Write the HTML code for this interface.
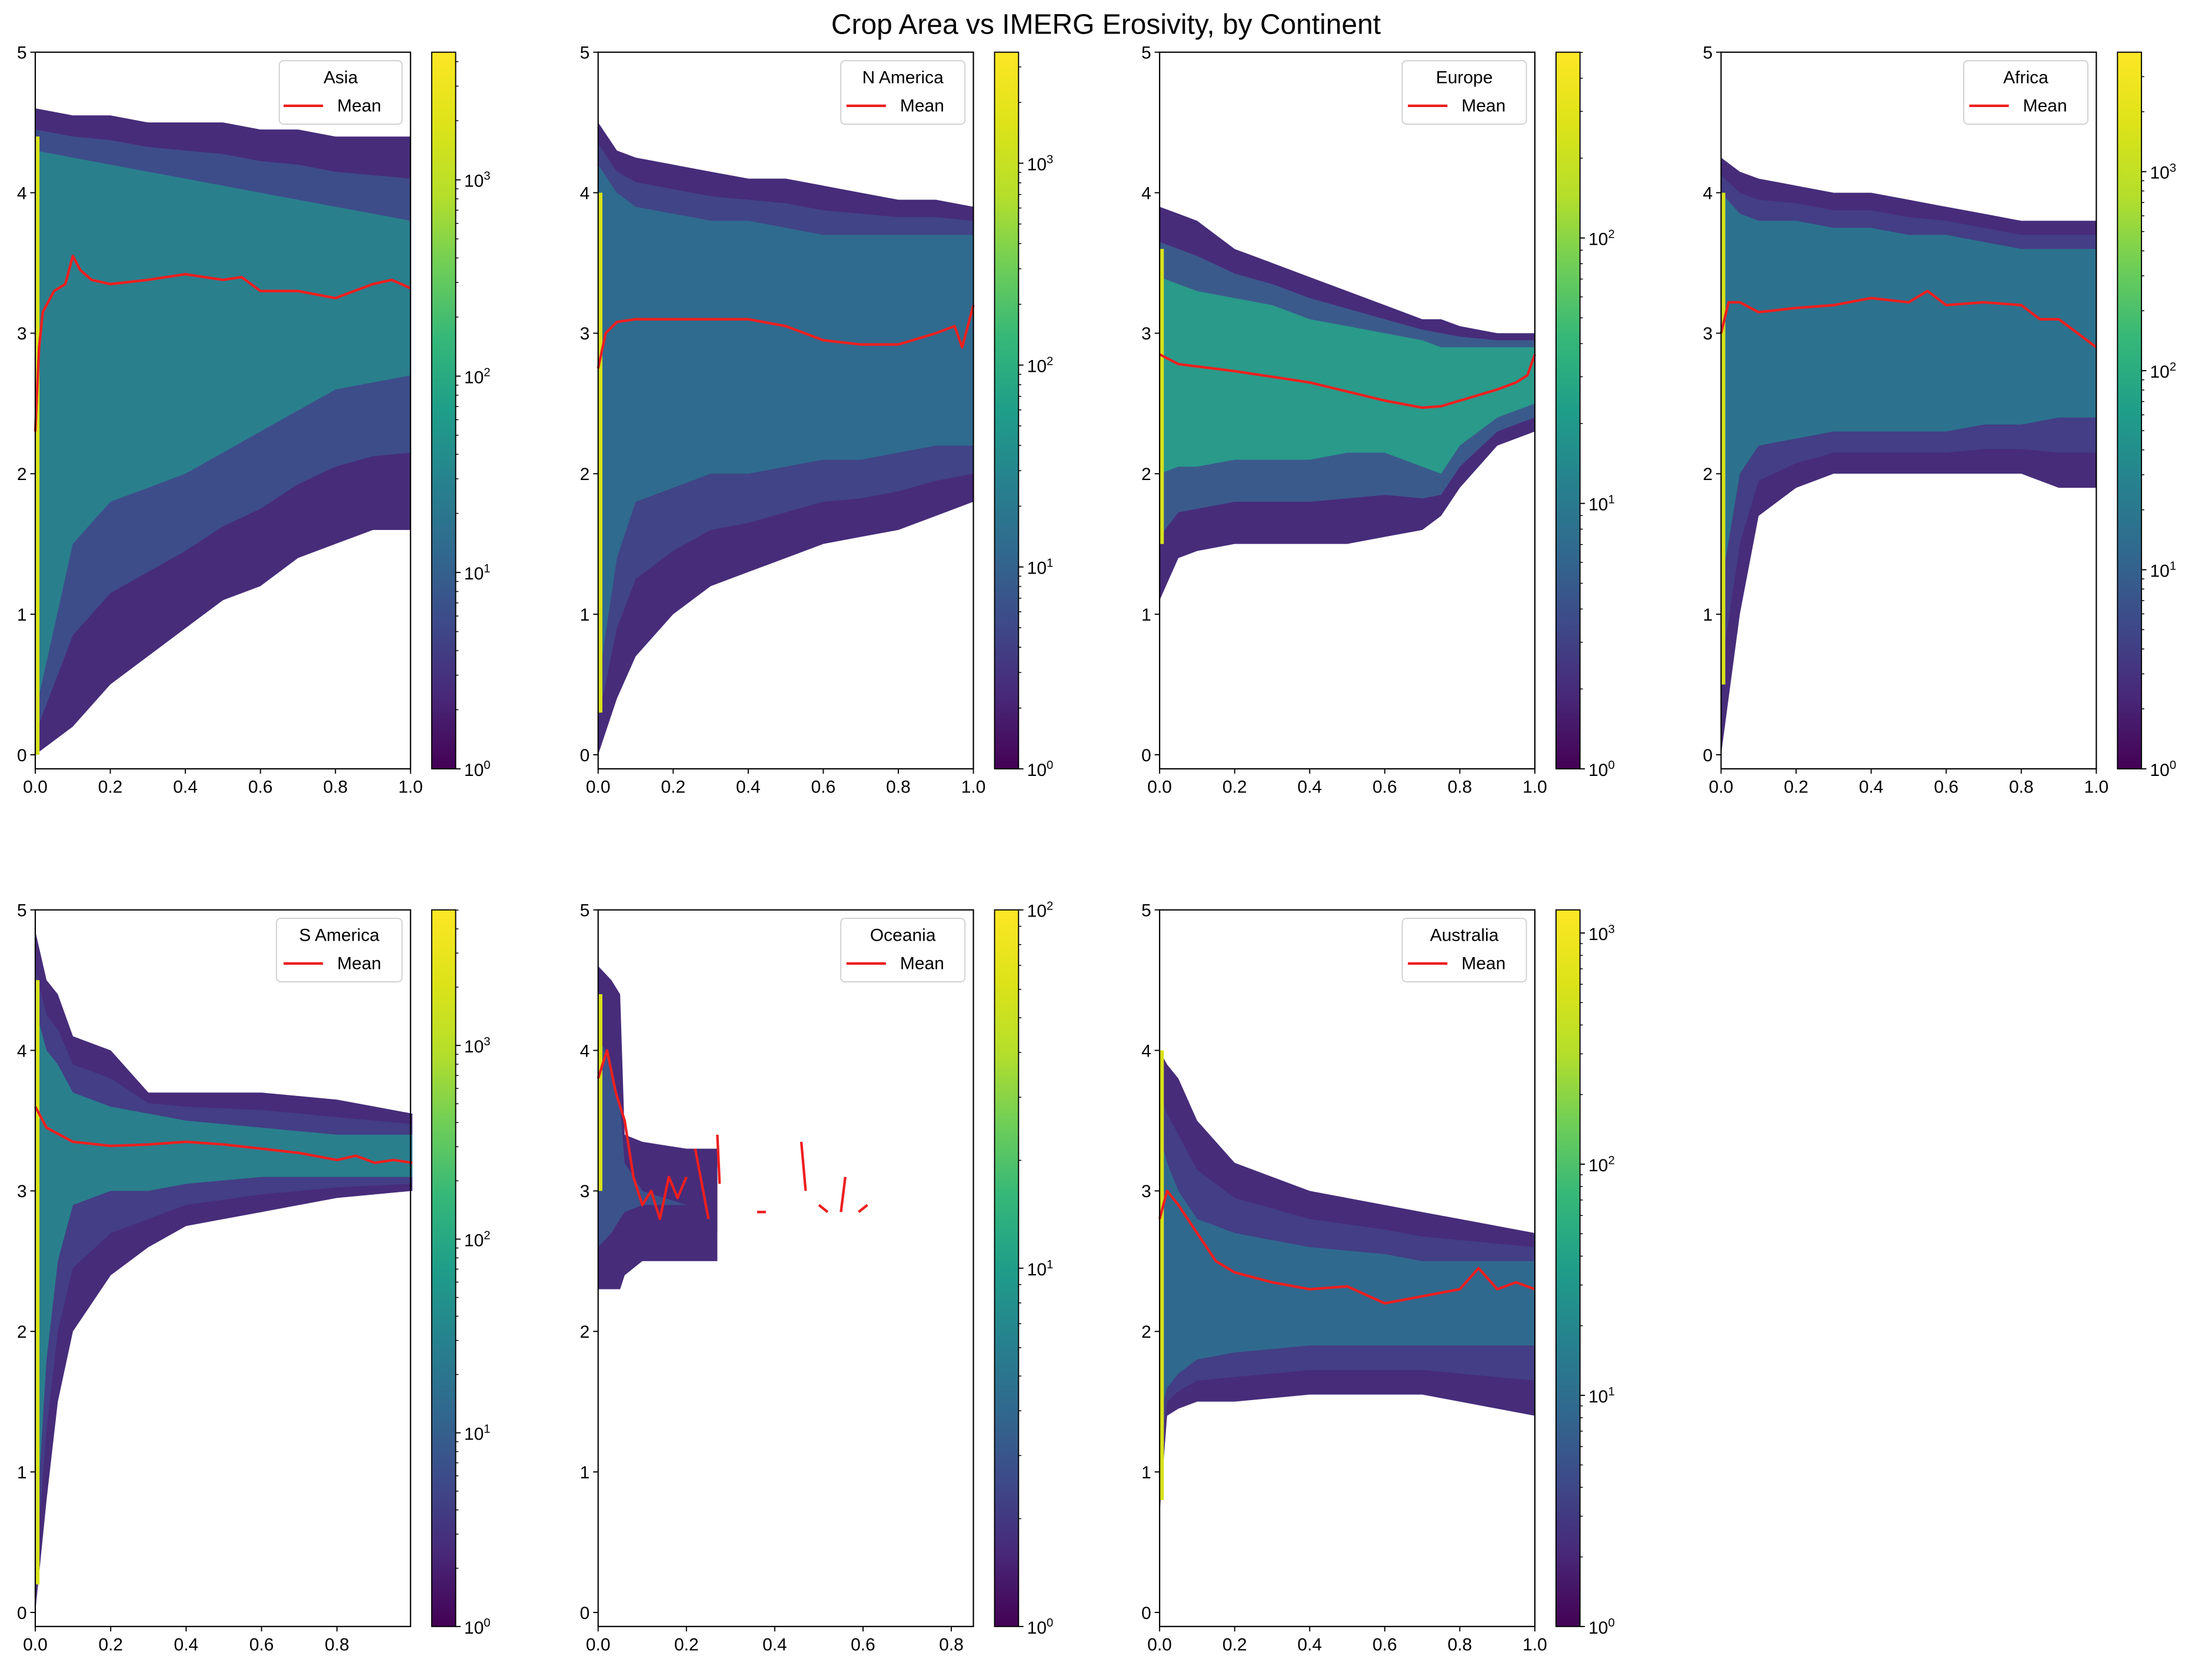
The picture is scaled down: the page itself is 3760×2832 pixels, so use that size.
<!DOCTYPE html>
<html><head><meta charset="utf-8"><style>
html,body{margin:0;padding:0;background:#fff;}
svg{display:block;font-family:"Liberation Sans","DejaVu Sans",sans-serif;}
</style></head><body>
<svg id="fig" xmlns="http://www.w3.org/2000/svg" width="3760" height="2832" viewBox="0 0 1568 1181">
<defs>
<linearGradient id="viridis" x1="0" y1="1" x2="0" y2="0">
<stop offset="0" stop-color="#440154"/><stop offset="0.1" stop-color="#482878"/><stop offset="0.2" stop-color="#3e4989"/><stop offset="0.3" stop-color="#31688e"/><stop offset="0.4" stop-color="#26828e"/><stop offset="0.5" stop-color="#1f9e89"/><stop offset="0.6" stop-color="#35b779"/><stop offset="0.7" stop-color="#6ece58"/><stop offset="0.8" stop-color="#b5de2b"/><stop offset="0.9" stop-color="#dde318"/><stop offset="1" stop-color="#fde725"/>
</linearGradient>
</defs>
<text x="784" y="24" text-anchor="middle" font-size="20" fill="#000">Crop Area vs IMERG Erosivity, by Continent</text>
<g id="root"></g>
</svg>
<script>
// ---- data ----
const asiaEnvX=[0,0.1,0.2,0.3,0.4,0.5,0.6,0.7,0.8,0.9,1.0];
const asiaHi=[4.6,4.55,4.55,4.5,4.5,4.5,4.45,4.45,4.4,4.4,4.4];
const asiaLo=[0,0.2,0.5,0.7,0.9,1.1,1.2,1.4,1.5,1.6,1.6];
const asiaCoreHi=[4.3,4.25,4.2,4.15,4.1,4.05,4.0,3.95,3.9,3.85,3.8];
const asiaCoreLo=[0.3,1.5,1.8,1.9,2.0,2.15,2.3,2.45,2.6,2.65,2.7];
const asiaMeanX=[0,0.01,0.02,0.05,0.08,0.1,0.12,0.15,0.2,0.3,0.4,0.5,0.55,0.6,0.7,0.8,0.85,0.9,0.95,1.0];
const asiaMeanY=[2.3,2.9,3.15,3.3,3.35,3.55,3.45,3.38,3.35,3.38,3.42,3.38,3.4,3.3,3.3,3.25,3.3,3.35,3.38,3.32];

const namEnvX=[0,0.05,0.1,0.2,0.3,0.4,0.5,0.6,0.7,0.8,0.9,1.0];
const namHi=[4.5,4.3,4.25,4.2,4.15,4.1,4.1,4.05,4.0,3.95,3.95,3.9];
const namLo=[0,0.4,0.7,1.0,1.2,1.3,1.4,1.5,1.55,1.6,1.7,1.8];
const namCoreHi=[4.2,4.0,3.9,3.85,3.8,3.8,3.75,3.7,3.7,3.7,3.7,3.7];
const namCoreLo=[0.5,1.4,1.8,1.9,2.0,2.0,2.05,2.1,2.1,2.15,2.2,2.2];
const namMeanX=[0,0.02,0.05,0.1,0.2,0.3,0.4,0.5,0.6,0.7,0.8,0.9,0.95,0.97,1.0];
const namMeanY=[2.75,3.0,3.08,3.1,3.1,3.1,3.1,3.05,2.95,2.92,2.92,3.0,3.05,2.9,3.2];

const eurEnvX=[0,0.05,0.1,0.2,0.3,0.4,0.5,0.6,0.7,0.75,0.8,0.9,1.0];
const eurHi=[3.9,3.85,3.8,3.6,3.5,3.4,3.3,3.2,3.1,3.1,3.05,3.0,3.0];
const eurLo=[1.1,1.4,1.45,1.5,1.5,1.5,1.5,1.55,1.6,1.7,1.9,2.2,2.3];
const eurCoreHi=[3.4,3.35,3.3,3.25,3.2,3.1,3.05,3.0,2.95,2.9,2.9,2.9,2.9];
const eurCoreLo=[2.0,2.05,2.05,2.1,2.1,2.1,2.15,2.15,2.05,2.0,2.2,2.4,2.5];
const eurMeanX=[0,0.05,0.2,0.4,0.6,0.7,0.75,0.8,0.9,0.95,0.98,1.0];
const eurMeanY=[2.85,2.78,2.73,2.65,2.52,2.47,2.48,2.52,2.6,2.65,2.7,2.85];

const afrEnvX=[0,0.05,0.1,0.2,0.3,0.4,0.5,0.6,0.7,0.8,0.9,1.0];
const afrHi=[4.25,4.15,4.1,4.05,4.0,4.0,3.95,3.9,3.85,3.8,3.8,3.8];
const afrLo=[0,1.0,1.7,1.9,2.0,2.0,2.0,2.0,2.0,2.0,1.9,1.9];
const afrCoreHi=[4.0,3.85,3.8,3.8,3.75,3.75,3.7,3.7,3.65,3.6,3.6,3.6];
const afrCoreLo=[1.2,2.0,2.2,2.25,2.3,2.3,2.3,2.3,2.35,2.35,2.4,2.4];
const afrMeanX=[0,0.02,0.05,0.1,0.2,0.3,0.4,0.5,0.55,0.6,0.7,0.8,0.85,0.9,0.95,1.0];
const afrMeanY=[3.0,3.22,3.22,3.15,3.18,3.2,3.25,3.22,3.3,3.2,3.22,3.2,3.1,3.1,3.0,2.9];

const samEnvX=[0,0.03,0.06,0.1,0.2,0.3,0.4,0.6,0.8,1.0];
const samHi=[4.85,4.5,4.4,4.1,4.0,3.7,3.7,3.7,3.65,3.55];
const samLo=[0,0.8,1.5,2.0,2.4,2.6,2.75,2.85,2.95,3.0];
const samCoreHi=[4.3,4.0,3.9,3.7,3.6,3.55,3.5,3.45,3.4,3.4];
const samCoreLo=[0.5,1.8,2.5,2.9,3.0,3.0,3.05,3.1,3.1,3.1];
const samMeanX=[0,0.03,0.1,0.2,0.3,0.4,0.5,0.6,0.7,0.8,0.85,0.9,0.95,1.0];
const samMeanY=[3.6,3.45,3.35,3.32,3.33,3.35,3.33,3.3,3.27,3.22,3.25,3.2,3.22,3.2];

const oceEnvX=[0,0.03,0.05,0.06,0.1,0.2,0.27];
const oceHi=[4.6,4.5,4.4,3.4,3.35,3.3,3.3];
const oceLo=[2.3,2.3,2.3,2.4,2.5,2.5,2.5];
const oceCoreHi=[4.1,3.9,3.6,3.2,3.0,2.9,2.9];
const oceCoreLo=[2.6,2.7,2.8,2.85,2.9,2.9,2.9];
const oceMeanX=[0,0.02,0.04,0.06,0.08,0.1,0.12,0.14,0.16,0.18,0.2,null,0.22,0.25,null,0.27,0.275,null,0.36,0.38,null,0.46,0.47,null,0.5,0.52,null,0.55,0.56,null,0.59,0.61];
const oceMeanY=[3.8,4.0,3.7,3.5,3.1,2.9,3.0,2.8,3.1,2.95,3.1,null,3.3,2.8,null,3.4,3.05,null,2.85,2.85,null,3.35,3.0,null,2.9,2.85,null,2.85,3.1,null,2.85,2.9];

const ausEnvX=[0,0.02,0.05,0.1,0.2,0.4,0.6,0.7,0.8,1.0];
const ausHi=[4.0,3.9,3.8,3.5,3.2,3.0,2.9,2.85,2.8,2.7];
const ausLo=[0.7,1.4,1.45,1.5,1.5,1.55,1.55,1.55,1.5,1.4];
const ausCoreHi=[3.4,3.2,3.0,2.8,2.7,2.6,2.55,2.5,2.5,2.5];
const ausCoreLo=[1.4,1.6,1.7,1.8,1.85,1.9,1.9,1.9,1.9,1.9];
const ausMeanX=[0,0.02,0.05,0.1,0.15,0.2,0.3,0.4,0.5,0.6,0.7,0.8,0.85,0.9,0.95,1.0];
const ausMeanY=[2.8,3.0,2.9,2.7,2.5,2.42,2.35,2.3,2.32,2.2,2.25,2.3,2.45,2.3,2.35,2.3];

const xTicksFull=[0,0.2,0.4,0.6,0.8,1.0];
const xTickLabelsFull=["0.0","0.2","0.4","0.6","0.8","1.0"];
const xTicksShort=[0,0.2,0.4,0.6,0.8];
const xTickLabelsShort=["0.0","0.2","0.4","0.6","0.8"];
const yTicks=[0,1,2,3,4,5];

const panels=[
 {name:"Asia",l:25,t:37,xmax:1.0,envX:asiaEnvX,hi:asiaHi,lo:asiaLo,cHi:asiaCoreHi,cLo:asiaCoreLo,mx:asiaMeanX,my:asiaMeanY,cmax:3.65,cmaxDec:3,ticks:xTicksFull,tl:xTickLabelsFull,leg:198,core:"#2a7f8d",mid:"#3d4d8a",strip:[0,4.4]},
 {name:"N America",l:424,t:37,xmax:1.0,envX:namEnvX,hi:namHi,lo:namLo,cHi:namCoreHi,cLo:namCoreLo,mx:namMeanX,my:namMeanY,cmax:3.55,cmaxDec:3,ticks:xTicksFull,tl:xTickLabelsFull,leg:596,core:"#2f6b8e",mid:"#414487",strip:[0.3,4.0]},
 {name:"Europe",l:822,t:37,xmax:1.0,envX:eurEnvX,hi:eurHi,lo:eurLo,cHi:eurCoreHi,cLo:eurCoreLo,mx:eurMeanX,my:eurMeanY,cmax:2.7,cmaxDec:2,ticks:xTicksFull,tl:xTickLabelsFull,leg:994,core:"#2a9a8a",mid:"#3b5a8c",strip:[1.5,3.6]},
 {name:"Africa",l:1220,t:37,xmax:1.0,envX:afrEnvX,hi:afrHi,lo:afrLo,cHi:afrCoreHi,cLo:afrCoreLo,mx:afrMeanX,my:afrMeanY,cmax:3.6,cmaxDec:3,ticks:xTicksFull,tl:xTickLabelsFull,leg:1392,core:"#2c728e",mid:"#433e85",strip:[0.5,4.0]},
 {name:"S America",l:25,t:645,xmax:0.995,envX:samEnvX,hi:samHi,lo:samLo,cHi:samCoreHi,cLo:samCoreLo,mx:samMeanX,my:samMeanY,cmax:3.7,cmaxDec:3,ticks:xTicksShort,tl:xTickLabelsShort,leg:196,core:"#2a7f8d",mid:"#433e85",strip:[0.2,4.5]},
 {name:"Oceania",l:424,t:645,xmax:0.85,envX:oceEnvX,hi:oceHi,lo:oceLo,cHi:oceCoreHi,cLo:oceCoreLo,mx:oceMeanX,my:oceMeanY,cmax:2.0,cmaxDec:2,ticks:xTicksShort,tl:xTickLabelsShort,leg:596,core:"#3b528b",mid:"#472c7a",strip:[3.0,4.4]},
 {name:"Australia",l:822,t:645,xmax:1.0,envX:ausEnvX,hi:ausHi,lo:ausLo,cHi:ausCoreHi,cLo:ausCoreLo,mx:ausMeanX,my:ausMeanY,cmax:3.1,cmaxDec:3,ticks:xTicksFull,tl:xTickLabelsFull,leg:994,core:"#30698e",mid:"#433e85",strip:[0.8,4.0]}
];

const NS="http://www.w3.org/2000/svg";
const root=document.getElementById('root');
function mk(tag,attrs,parent){const e=document.createElementNS(NS,tag);for(const k in attrs)e.setAttribute(k,attrs[k]);(parent||root).appendChild(e);return e;}
const W=266,H=508,YMIN=-0.1,YMAX=5,FS=12.5;

panels.forEach(p=>{
 const slug=p.name.toLowerCase().replace(/\s+/g,'-');
 const g=mk('g',{});
 
 
 const X=v=>p.l+v/p.xmax*W;
 const Y=v=>p.t+(YMAX-v)/(YMAX-YMIN)*H;
 function band(hi,lo,fill,name){
  let d='';
  p.envX.forEach((x,i)=>{d+=(i?'L':'M')+X(x).toFixed(1)+','+Y(hi[i]).toFixed(1);});
  for(let i=p.envX.length-1;i>=0;i--)d+='L'+X(p.envX[i]).toFixed(1)+','+Y(lo[i]).toFixed(1);
  const e=mk('path',{d:d+'Z',fill:fill},g);
  
  
 }
 band(p.hi,p.lo,'#472c7a',slug+'-heatmap-sparse');
 const midHi=p.hi.map((v,i)=>(v+p.cHi[i])/2), midLo=p.lo.map((v,i)=>(v+p.cLo[i])/2);
 band(midHi,midLo,p.mid,slug+'-heatmap-mid');
 band(p.cHi,p.cLo,p.core,slug+'-heatmap-core');
 const s=mk('rect',{x:X(0),y:Y(p.strip[1]),width:3,height:Y(p.strip[0])-Y(p.strip[1]),fill:'#d8e21c'},g);
 
 
 let d='',pen=false;
 p.mx.forEach((x,i)=>{if(x===null){pen=false;return;}d+=(pen?'L':'M')+X(x).toFixed(1)+','+Y(p.my[i]).toFixed(1);pen=true;});
 const ml=mk('path',{d:d,fill:'none',stroke:'#ee1f1f','stroke-width':1.8,'stroke-linejoin':'round'},g);
 
 
 const fr=mk('rect',{x:p.l,y:p.t,width:W,height:H,fill:'none',stroke:'#000','stroke-width':0.9},g);
 
 
 p.ticks.forEach((v,i)=>{
  mk('line',{x1:X(v),x2:X(v),y1:p.t+H,y2:p.t+H+3.5,stroke:'#000','stroke-width':0.8},g);
  const t=mk('text',{x:X(v),y:p.t+H+17,'text-anchor':'middle','font-size':FS},g);
  t.textContent=p.tl[i];
  
  
 });
 yTicks.forEach(v=>{
  mk('line',{x1:p.l-3.5,x2:p.l,y1:Y(v),y2:Y(v),stroke:'#000','stroke-width':0.8},g);
  const t=mk('text',{x:p.l-6,y:Y(v)+4.5,'text-anchor':'end','font-size':FS},g);
  t.textContent=String(v);
  
  
 });
 const lx=p.leg, lr=p.l+W-6, ly=p.t+6;
 const lg=mk('g',{},g);
 
 
 mk('rect',{x:lx,y:ly,width:lr-lx,height:45,rx:3,fill:'#fff','fill-opacity':0.8,stroke:'#d0d0d0','stroke-width':0.8},lg);
 const lt=mk('text',{x:(lx+lr)/2,y:ly+16,'text-anchor':'middle','font-size':FS},lg);
 lt.textContent=p.name;
 
 
 mk('line',{x1:lr-84,x2:lr-56,y1:ly+32,y2:ly+32,stroke:'#ee1f1f','stroke-width':1.8},lg);
 const le=mk('text',{x:lr-46,y:ly+36,'font-size':FS},lg);
 le.textContent='Mean';
 
 
 const cx=p.l+W+15, cw=17;
 const cb=mk('rect',{x:cx,y:p.t,width:cw,height:H,fill:'url(#viridis)',stroke:'#000','stroke-width':0.8},g);
 
 
 const CY=e=>p.t+H-e/p.cmax*H;
 for(let e=0;e<=p.cmaxDec;e++){
  mk('line',{x1:cx+cw,x2:cx+cw+3.5,y1:CY(e),y2:CY(e),stroke:'#000','stroke-width':0.8},g);
  const t=mk('text',{x:cx+cw+6,y:CY(e)+5,'font-size':FS},g);
  t.appendChild(document.createTextNode('10'));
  const sp=mk('tspan',{dy:-5,'font-size':8.5},t);sp.textContent=String(e);
  
  
  for(let m=2;m<10;m++){const ev=e+Math.log10(m);if(ev>p.cmax)break;
   mk('line',{x1:cx+cw,x2:cx+cw+2,y1:CY(ev),y2:CY(ev),stroke:'#000','stroke-width':0.6},g);}
 }
});
</script>
</body></html>
